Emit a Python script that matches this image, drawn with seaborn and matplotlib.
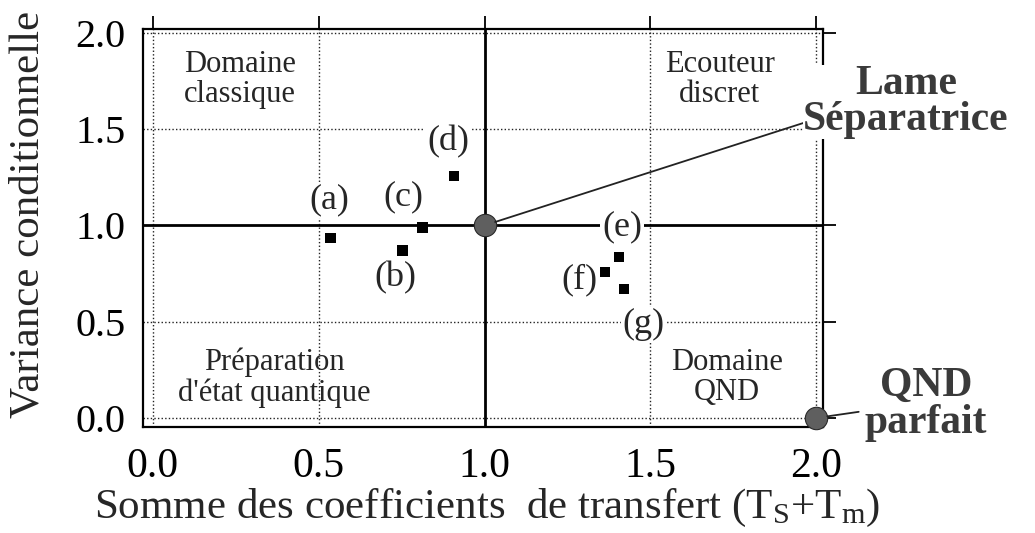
import numpy as np
import pandas as pd
import matplotlib
matplotlib.use("Agg")
import matplotlib.pyplot as plt
import seaborn as sns

# ── Data ──────────────────────────────────────────────────────
point_names = ["(a)", "(b)", "(c)", "(d)", "(e)", "(f)", "(g)"]
transfer_sum = [0.535, 0.752, 0.812, 0.908, 1.405, 1.363, 1.420]
cond_variance = [0.935, 0.868, 0.99, 1.257, 0.836, 0.758, 0.670]

# reference points: beam splitter and perfect QND
ref_x = [1.0, 2.0]
ref_y = [1.0, 0.0]

x_ticks = [0.0, 0.5, 1.0, 1.5, 2.0]
y_ticks = [0.0, 0.5, 1.0, 1.5, 2.0]

region_texts = ["Domaine\nclassique", "Ecouteur\ndiscret",
                "Préparation\nd'état quantique", "Domaine\nQND"]
region_pos = [(0.264, 1.76), (1.709, 1.76), (0.366, 0.21), (1.730, 0.21)]

# label offsets in pixels from each point
label_offsets = [(-1, 38), (-7, -27), (-19, 30), (-6, 34), (3, 30), (-26, -8), (20, -36)]

df = pd.DataFrame({"x": transfer_sum, "y": cond_variance, "name": point_names})

sns.set_style("white")
plt.rcParams["font.family"] = ["Liberation Serif", "DejaVu Serif"]
plt.rcParams["mathtext.fontset"] = "custom"
plt.rcParams["mathtext.rm"] = "Liberation Serif"
plt.rcParams["mathtext.it"] = "Liberation Serif:italic"

fig = plt.figure(figsize=(10.35, 5.33), dpi=100)
ax = fig.add_axes([0.1382, 0.1989, 0.6570, 0.7467])

# ── Grid & separators ─────────────────────────────────────────
for v in [0.0, 0.5, 1.5, 2.0]:
    ax.axvline(v, color="#222222", lw=1.0, ls=(0, (1, 1.6)), zorder=1)
    ax.axhline(v, color="#222222", lw=1.0, ls=(0, (1, 1.6)), zorder=1)
ax.axvline(1.0, color="black", lw=2.0, zorder=2)
ax.axhline(1.0, color="black", lw=2.0, zorder=2)

# ── Points ────────────────────────────────────────────────────
sns.scatterplot(data=df, x="x", y="y", marker="s", s=60, color="black",
                edgecolor="none", ax=ax, zorder=4)
ax.scatter(ref_x, ref_y, s=260, color="#5f5f5f", edgecolor="#2a2a2a",
           linewidth=0.8, zorder=5, clip_on=False)

for (px, py, name), (dx, dy) in zip(zip(transfer_sum, cond_variance, point_names), label_offsets):
    ax.annotate(name, (px, py), xytext=(dx, dy), textcoords="offset pixels",
                ha="center", va="center", fontsize=26, zorder=6,
                bbox=dict(boxstyle="square,pad=0.05", fc="white", ec="none"))

for txt, (tx, ty) in zip(region_texts, region_pos):
    ax.text(tx, ty, txt, ha="center", va="center", fontsize=22,
            linespacing=1.05, zorder=6)

# ── Callouts ──────────────────────────────────────────────────
ax.annotate("Lame\nSéparatrice", xy=(ref_x[0], ref_y[0]), xytext=(2.27, 1.64),
            textcoords="data", ha="center", va="center", fontsize=30,
            fontweight="bold", color="#3a3a3a", linespacing=0.95,
            annotation_clip=False, zorder=7,
            bbox=dict(boxstyle="square,pad=0.0", fc="white", ec="none"),
            arrowprops=dict(arrowstyle="-", color="#222222", lw=1.3,
                            relpos=(0.0, 0.22), shrinkA=0, shrinkB=8))
ax.annotate("QND\nparfait", xy=(ref_x[1], ref_y[1]), xytext=(2.33, 0.07),
            textcoords="data", ha="center", va="center", fontsize=30,
            fontweight="bold", color="#3a3a3a", linespacing=0.95,
            annotation_clip=False, zorder=7,
            arrowprops=dict(arrowstyle="-", color="#222222", lw=1.3,
                            relpos=(0.03, 0.42), shrinkA=2, shrinkB=8))

# ── Axes ──────────────────────────────────────────────────────
ax.set_xlim(-0.029, 2.02)
ax.set_ylim(-0.047, 2.02)
ax.set_xticks(x_ticks)
ax.set_yticks(y_ticks)
ax.set_xticklabels([f"{t:.1f}" for t in x_ticks], fontsize=30)
ax.set_yticklabels([f"{t:.1f}" for t in y_ticks], fontsize=29)
ax.tick_params(axis="both", direction="out", length=9.5, width=1.3,
               top=True, right=True, colors="black", pad=3)
ax.tick_params(axis="x", pad=5)
for sp in ax.spines.values():
    sp.set_visible(True)
    sp.set_color("black")
    sp.set_linewidth(1.6)

ax.set_xlabel("Somme des coefficients  de transfert (T$_{\\mathrm{S}}$+T$_{\\mathrm{m}}$)",
              fontsize=31)
ax.set_ylabel("Variance conditionnelle", fontsize=31)
ax.xaxis.set_label_coords(0.505, -0.15)
ax.yaxis.set_label_coords(-0.14, 0.535)

fig.savefig("out.png", dpi=100, facecolor="white")
